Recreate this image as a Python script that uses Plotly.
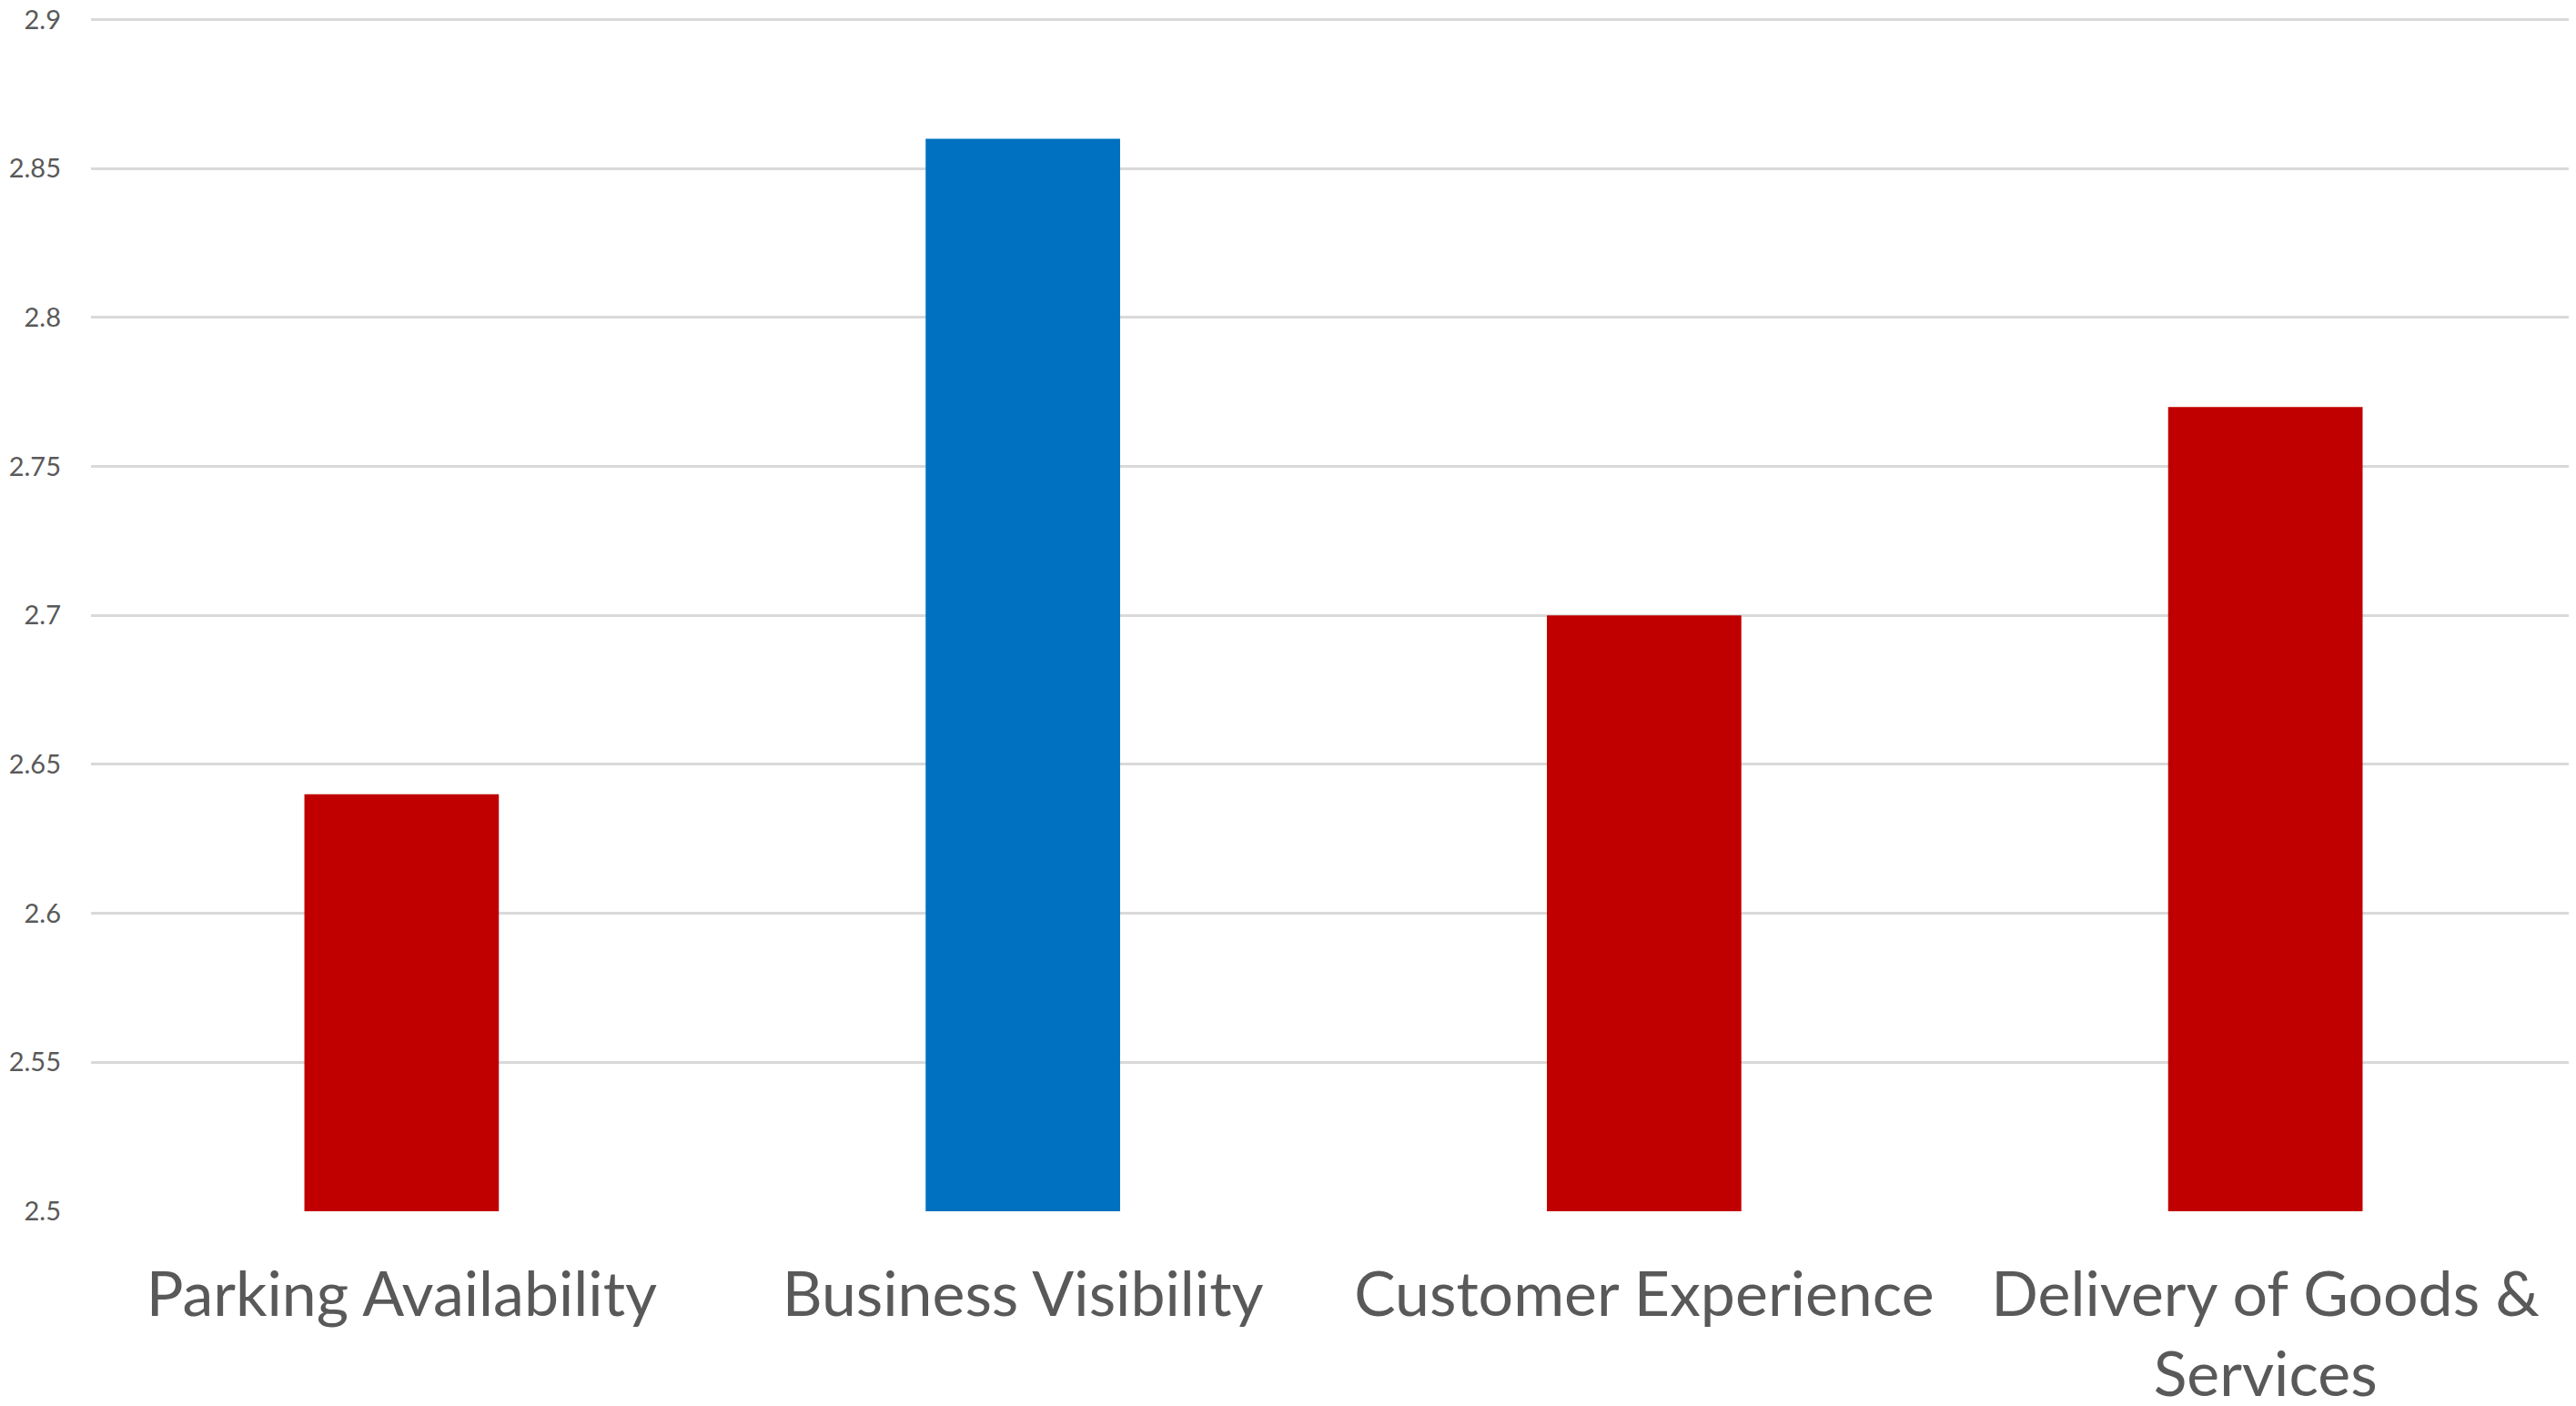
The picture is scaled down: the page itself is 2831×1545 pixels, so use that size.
import plotly.graph_objects as go

categories = ["Parking Availability", "Business Visibility", "Customer Experience",
              "Delivery of Goods &<br>Services"]
values = [2.64, 2.86, 2.70, 2.77]
bar_colors = ["#C00000", "#0070C0", "#C00000", "#C00000"]
y_ticks = [2.5, 2.55, 2.6, 2.65, 2.7, 2.75, 2.8, 2.85, 2.9]

fig = go.Figure(go.Bar(x=categories, y=values, marker_color=bar_colors,
                       marker_line_width=0))

# page body has an 8px margin, so the figure is a bit smaller than the window
fig.update_layout(
    width=2823, height=1537,
    margin=dict(l=92, r=0, t=12, b=214),
    plot_bgcolor="white", paper_bgcolor="white",
    bargap=0.687, showlegend=False,
    font=dict(family="Lato", color="#595959"),
)
fig.update_xaxes(tickfont=dict(size=68), ticklabelstandoff=46, showgrid=False,
                 showline=False, automargin=False, ticklabeloverflow="allow")
fig.update_yaxes(range=[2.5, 2.9005], tickvals=y_ticks,
                 ticktext=[f"{v:g}" for v in y_ticks],
                 tickfont=dict(size=29), ticklabelstandoff=32,
                 showgrid=True, gridcolor="#D9D9D9", gridwidth=3,
                 zeroline=False, showline=False, automargin=False,
                 ticklabeloverflow="allow")

fig.write_html("out.html")
